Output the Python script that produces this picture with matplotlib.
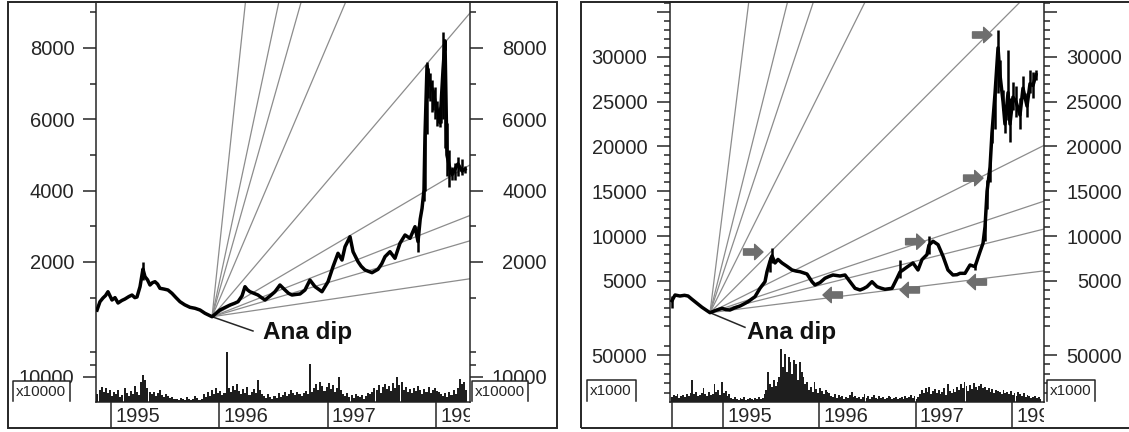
import numpy as np
import matplotlib
matplotlib.use("Agg")
import matplotlib.pyplot as plt
from matplotlib.patches import Rectangle
from matplotlib.lines import Line2D

plt.rcParams["font.family"] = ["Liberation Sans", "DejaVu Sans"]

W, H = 1129, 432
INK = "#262626"
FAN = "#8c8c8c"
ARROW = "#6e6e6e"
TICK_FS = 14.5

GANN_RATIOS = [8, 4, 3, 2, 1, 1 / 2, 1 / 3, 1 / 4, 1 / 8]
YEARS = [1995, 1996, 1997, 1998]

# ---------------- left chart: price (decimal year, price) ----------------
L_T = [1994.871, 1994.898, 1994.926, 1994.950, 1994.972, 1995.009, 1995.037, 1995.065,
       1995.100, 1995.129, 1995.165, 1995.194, 1995.220, 1995.240, 1995.268, 1995.295,
       1995.314, 1995.337, 1995.360, 1995.383, 1995.406, 1995.430, 1995.452, 1995.490,
       1995.526, 1995.563, 1995.600, 1995.637, 1995.680, 1995.729, 1995.776, 1995.822,
       1995.868, 1995.933, 1995.970, 1996.006, 1996.050, 1996.099, 1996.140, 1996.173,
       1996.210, 1996.237, 1996.260, 1996.283, 1996.320, 1996.357, 1996.390, 1996.422,
       1996.470, 1996.514, 1996.560, 1996.607, 1996.640, 1996.671, 1996.710, 1996.745,
       1996.791, 1996.837, 1996.884, 1996.948, 1997.004, 1997.050, 1997.096, 1997.133,
       1997.161, 1997.207, 1997.235, 1997.281, 1997.310, 1997.345, 1997.410, 1997.465,
       1997.500, 1997.530, 1997.576, 1997.622, 1997.668, 1997.715, 1997.761, 1997.807,
       1997.835, 1997.855, 1997.872, 1997.890, 1997.899, 1997.918, 1997.946, 1997.973,
       1997.992, 1998.019, 1998.038, 1998.066, 1998.084, 1998.102, 1998.130, 1998.149,
       1998.176, 1998.204, 1998.241, 1998.269]
L_P = [650, 886, 990, 1060, 1166, 934, 1000, 850, 920, 962, 1030, 1073, 1000, 1018, 1307, 1800,
       1587, 1500, 1354, 1420, 1447, 1380, 1262, 1240, 1214, 1121, 1000, 886, 800, 729, 701, 653,
       561, 465, 560, 653, 720, 793, 840, 886, 1050, 1307, 1220, 1166, 1120, 1074, 1000, 934,
       1050, 1166, 1354, 1214, 1120, 1074, 1090, 1102, 1214, 1494, 1307, 1166, 1447, 1867, 2243, 2055,
       2428, 2708, 2288, 2008, 1880, 1775, 1700, 1794, 1950, 2148, 2288, 2103, 2523, 2756, 2663, 2989,
       2570, 3200, 3500, 4020, 5500, 7500, 7000, 6800, 6500, 6200, 5900, 7400, 8200, 5000, 4600, 4450,
       4600, 4750, 4550, 4600]
# daily high-low ranges where the bars are tall
L_RNG_T = [1995.295, 1997.835, 1997.890, 1997.899, 1997.918, 1997.930, 1997.946, 1997.960,
           1997.973, 1997.992, 1998.010, 1998.038, 1998.050, 1998.066, 1998.084, 1998.102,
           1998.120, 1998.149, 1998.176, 1998.204, 1998.241, 1998.269]
L_RNG_LO = [1500, 2288, 3700, 4000, 5600, 6600, 6500, 6200, 6260, 6000, 5800, 5780, 5900, 6000,
            5200, 4400, 4110, 4300, 4300, 4400, 4440, 4500]
L_RNG_HI = [2008, 3000, 4500, 5630, 7600, 7450, 7300, 7100, 6820, 6900, 6500, 6350, 6700, 8450,
            7500, 5900, 5140, 4670, 4770, 4950, 4900, 4700]
L_DIP = (1995.933, 465)
L_FAN_UNIT = 3575          # price per year of the 1x1 line
L_VOL_START = 1994.875     # weekly volume, units of 10000
L_VOL = [
    3200, 4800, 6000, 4000, 5600, 3600, 4800,
    2400, 4000, 3200, 4800, 2000, 2800, 5600, 3600, 2400, 4400, 3200, 6400, 4000, 2800,
    8000, 10800, 8800, 5600, 4000,
    3200, 4000, 2400, 3600, 4800, 2800, 2000, 3200, 2400, 1600, 2000, 1200,
    1200, 800, 1600, 1200, 800, 2000, 1200, 800, 1200, 2400, 1600, 800, 1200, 3200, 2000,
    4000, 2400, 4800, 3200, 5600, 3600, 4400, 2800, 3600,
    20000,
    5600, 4000, 6400, 4800, 7200, 4400, 3200, 5200, 3600, 6000, 2800, 4000, 5200, 3600, 8800, 4800, 3200,
    2400, 1600, 3200, 2000, 1200, 2400, 1600, 3600, 2000, 2800, 4000, 2400, 3200, 4800, 3600, 2800,
    4000, 3200, 2400, 3600, 4400, 3200,
    15200,
    4000, 5600, 7200, 4800, 8000, 6400, 4400, 6000, 7600, 5200, 6800, 4000, 5600,
    10000,
    4800, 3200, 2400, 3600, 2000, 2800, 1600, 3200, 2400, 2000, 2800, 1200, 2400, 3600, 3200,
    4000, 5600, 4800, 6800, 3600, 6000, 7200, 5200, 6400, 4400, 7600, 5600, 10000, 6800, 8000,
    4800, 6000, 4000, 5200, 3600, 5600, 4400, 6400, 4800, 3200, 5200, 4000, 6000, 3600, 4800, 5600,
    4400, 4000, 3200,
    2400, 3600, 2000, 4000, 2800, 4800, 3200,
    5600, 9200, 7200, 8000, 4800,
]
L_PRICE_TICKS = [2000, 4000, 6000, 8000]
L_PRICE_LABELS = ["2000", "4000", "6000", "8000"]
L_PRICE_MINOR = [1000, 3000, 5000, 7000, 9000]
L_VOL_TICKS = [10000]
L_VOL_LABELS = ["10000"]
L_VOL_MINOR = [15000, 20000]

# ---------------- right chart ----------------
R_T = [1994.470, 1994.502, 1994.553, 1994.600, 1994.637, 1994.678, 1994.730, 1994.782,
       1994.834, 1994.865, 1994.917, 1994.960, 1994.990, 1995.030, 1995.073, 1995.120,
       1995.177, 1995.220, 1995.260, 1995.300, 1995.332, 1995.384, 1995.436, 1995.457,
       1995.488, 1995.509, 1995.540, 1995.571, 1995.613, 1995.665, 1995.717, 1995.760,
       1995.800, 1995.872, 1995.924, 1995.955, 1996.007, 1996.059, 1996.100, 1996.142,
       1996.215, 1996.267, 1996.319, 1996.371, 1996.423, 1996.460, 1996.495, 1996.547,
       1996.599, 1996.640, 1996.682, 1996.755, 1996.807, 1996.838, 1996.869, 1996.921,
       1996.973, 1997.025, 1997.066, 1997.118, 1997.139, 1997.181, 1997.233, 1997.285,
       1997.336, 1997.388, 1997.430, 1997.461, 1997.513, 1997.565, 1997.617, 1997.669,
       1997.700, 1997.721, 1997.742, 1997.773, 1997.793, 1997.825, 1997.856, 1997.876,
       1997.908, 1997.928, 1997.960, 1997.980, 1998.011, 1998.043, 1998.084, 1998.115,
       1998.157, 1998.188, 1998.219, 1998.250]
R_P = [2800, 3434, 3323, 3400, 3323, 2955, 2509, 2063, 1684, 1461, 1684, 1850, 1951, 1800, 1762, 2000,
       2208, 2450, 2687, 3000, 3245, 4181, 4917, 6032, 7200, 7800, 7006, 7400, 7006, 6630, 6223, 6100,
       6032, 5777, 4917, 4556, 4815, 5300, 5500, 5666, 5554, 5666, 4917, 4181, 3992, 4150, 4360, 4917,
       4360, 4200, 4070, 4181, 5300, 6000, 6223, 6630, 7006, 6223, 7380, 7940, 9000, 9430, 9050, 7750,
       6223, 5666, 5700, 5852, 5852, 6780, 6600, 8264, 9200, 11050, 15000, 17700, 21500, 25950, 31000,
       28000, 25000, 22500, 26000, 22500, 25500, 25000, 23500, 26500, 24500, 27000, 26800, 28000]
R_RNG_T = [1994.470, 1995.488, 1995.509, 1996.838, 1997.139, 1997.617, 1997.721, 1997.742,
           1997.773, 1997.793, 1997.825, 1997.856, 1997.876, 1997.908, 1997.928, 1997.960,
           1997.980, 1998.011, 1998.043, 1998.084, 1998.115, 1998.157, 1998.188, 1998.219, 1998.250]
R_RNG_LO = [1985, 6000, 7000, 5300, 8000, 6223, 9500, 13000, 16000, 20370, 22000, 26000, 26640,
            24060, 21470, 23000, 20540, 24060, 23300, 21920, 25380, 23300, 25950, 25380, 27440]
R_RNG_HI = [3300, 7705, 8640, 7380, 9990, 6970, 12020, 16260, 19000, 22600, 26500, 32990, 29640,
            26300, 24060, 30740, 25380, 27180, 26700, 25380, 27900, 25950, 28550, 28330, 28550]
R_DIP = (1994.865, 1461)
R_FAN_UNIT = 10760
R_VOL_START = 1994.470     # weekly volume, units of 1000
R_VOL = [
    5300, 7400, 6400, 8500, 4300, 6400, 7400, 5300, 8500, 6400,
    9600, 23300, 8500, 10600, 6400, 7400,
    9600, 14900, 8500, 6400, 10600, 7400,
    8500, 19100, 10600, 12700, 7400, 21200, 9600, 11700, 6400, 8500,
    4300, 3200, 5300, 3200, 2100, 4300, 3200, 5300, 2100, 3200, 4300, 3200, 2100, 4300, 3200, 5300,
    3200, 4300,
    8500, 12700, 31800, 19100, 15900, 23300, 17000, 21200,
    26500, 56200, 37100, 50900, 31800, 47700, 42400, 29700, 44500, 40300, 23300, 42400, 31800,
    26500, 19100,
    21200, 12700, 15900, 10600, 21200, 13800, 9600, 14900, 11700, 8500, 12700, 10600, 9600,
    6400, 5300, 8500, 4300, 7400, 5300, 6400, 3200, 5300, 4300, 7400, 10600, 5300, 6400, 4300, 5300,
    3200, 5300, 8500, 4300, 6400, 3200, 5300, 7400, 4300, 3200, 6400, 4300, 5300, 3200, 4300, 6400,
    5300, 3200, 4300, 5300, 3200, 4300,
    5300, 3200, 6400, 4300, 5300, 7400, 4300, 6400, 3200, 5300, 8500,
    12700, 9600, 14900, 10600, 15900, 8500, 11700, 13800,
    9600, 12700, 8500, 10600, 14900, 7400, 19100, 11700, 9600, 13800, 10600,
    15900, 12700, 19100, 14900, 21200, 17000, 11700, 18000, 13800, 20100, 15900, 12700, 17000,
    19100, 14900, 15900,
    12700, 14900, 10600, 13800, 9600, 12700, 11700, 10600, 8500, 12700, 9600,
    10600, 8500, 11700, 7400, 9600, 6400, 10600, 8500, 6400, 9600, 5300, 7400, 6400, 4300, 5300,
    6400, 4300, 5300, 3200,
]
R_PRICE_TICKS = [5000, 10000, 15000, 20000, 25000, 30000, 35000]
R_PRICE_LABELS = ["5000", "10000", "15000", "20000", "25000", "30000", ""]
R_PRICE_MINOR = list(range(0, 36001, 1000))
R_VOL_TICKS = [50000]
R_VOL_LABELS = ["50000"]
R_VOL_MINOR = [10000, 20000, 30000, 40000, 60000]
# marker arrows: tip position and pointing direction (+1 right, -1 left)
R_ARROW_T = [1995.415, 1996.038, 1997.098, 1996.838, 1997.534, 1997.793, 1997.700]
R_ARROW_P = [8230, 3435, 9380, 4000, 4880, 32430, 16470]
R_ARROW_DIR = [1, -1, 1, -1, -1, 1, 1]


def px_box(x0, y0, x1, y1):
    return [x0 / W, 1 - y1 / H, (x1 - x0) / W, (y1 - y0) / H]


def setup_y(a, side, major, labels, minor, pad):
    a.set_yticks(major, labels=labels)
    a.set_yticks(minor, minor=True)
    on_left = side == "left"
    a.tick_params(axis="y", which="both", direction="out", colors=INK, width=1.1,
                  left=on_left, right=not on_left,
                  labelleft=on_left, labelright=not on_left, labelsize=TICK_FS)
    a.tick_params(axis="y", which="major", length=9.4, pad=pad)
    a.tick_params(axis="y", which="minor", length=4.3)
    if not on_left:
        for t in a.yaxis.get_major_ticks():
            t.label2.set_horizontalalignment("right")


def unit_box(fig, x0, y0, x1, y1, text):
    fig.add_artist(Rectangle((x0 / W, 1 - y1 / H), (x1 - x0) / W, (y1 - y0) / H,
                             transform=fig.transFigure, facecolor="white",
                             edgecolor="none", zorder=5))
    fig.add_artist(Line2D([x0 / W, x0 / W, x1 / W, x1 / W],
                          [1 - y1 / H, 1 - y0 / H, 1 - y0 / H, 1 - y1 / H],
                          transform=fig.transFigure, color=INK, lw=1.1, zorder=6))
    fig.text((x0 + 3) / W, 1 - ((y0 + y1) / 2 + 0.5) / H, text, fontsize=11,
             color=INK, ha="left", va="center", zorder=7)


def draw_panel(fig, x0, x1, xlim, ylim, t, p, rt, rlo, rhi, pmaj, plab, pmin,
               dip, unit, lead_end, label_at, vol, vol_start, vol_top,
               vmaj, vlab, vmin, marks, pad_left, pad_right):
    ax = fig.add_axes(px_box(x0, 2, x1, 402))
    rax = ax.twinx()
    for a in (ax, rax):
        a.set_xlim(*xlim)
        a.set_ylim(*ylim)
        a.patch.set_visible(False)
    ax.set_xticks([])
    for s in ax.spines.values():
        s.set_color(INK)
        s.set_linewidth(1.1)
    for s in rax.spines.values():
        s.set_visible(False)
    setup_y(ax, "left", pmaj, plab, pmin, pad_left)
    setup_y(rax, "right", pmaj, plab, pmin, pad_right)

    # Gann fan from the dip
    t_end = xlim[1]
    for r in GANN_RATIOS:
        ax.plot([dip[0], t_end], [dip[1], dip[1] + r * unit * (t_end - dip[0])],
                color=FAN, lw=0.9, zorder=1)

    ax.plot(t, p, color="black", lw=2.5, zorder=3, solid_joinstyle="round")
    ax.vlines(rt, rlo, rhi, color="black", lw=1.8, zorder=3)

    ax.plot([dip[0], lead_end[0]], [dip[1], lead_end[1]], color=INK, lw=1.1, zorder=2)
    ax.text(label_at[0], label_at[1], "Ana dip", fontsize=17.5, fontweight="bold",
            color="#111111", ha="left", va="baseline", zorder=4)

    # volume strip
    vax = fig.add_axes(px_box(x0, 340, x1, 402))
    vrax = vax.twinx()
    for a in (vax, vrax):
        a.set_xlim(*xlim)
        a.set_ylim(0, vol_top)
        a.patch.set_visible(False)
        for s in a.spines.values():
            s.set_visible(False)
    vax.set_xticks([])
    vt = vol_start + np.arange(len(vol)) / 52
    vax.bar(vt, vol, width=0.019, color="#1e1e1e", linewidth=0)
    setup_y(vax, "left", vmaj, vlab, vmin, pad_left)
    setup_y(vrax, "right", vmaj, vlab, vmin, pad_right)

    # year boxes under the axis
    sax = fig.add_axes(px_box(x0, 402, x1, 428))
    sax.set_xlim(*xlim)
    sax.set_ylim(0, 1)
    sax.axis("off")
    sax.vlines(marks, 0, 1, color=INK, lw=1.1)
    for y in YEARS:
        sax.annotate(str(y), xy=(y, 0.44), xytext=(3, 0), textcoords="offset points",
                     ha="left", va="center", fontsize=TICK_FS, color=INK,
                     clip_on=True, annotation_clip=False)
    return ax


fig = plt.figure(figsize=(W / 100, H / 100), dpi=100)

axL = draw_panel(fig, 96, 470, (1994.8615, 1998.3149), (-1926, 9289),
                 L_T, L_P, L_RNG_T, L_RNG_LO, L_RNG_HI,
                 L_PRICE_TICKS, L_PRICE_LABELS, L_PRICE_MINOR,
                 L_DIP, L_FAN_UNIT, (1996.311, 65), (1996.404, -160),
                 L_VOL, L_VOL_START, 24800, L_VOL_TICKS, L_VOL_LABELS, L_VOL_MINOR,
                 YEARS, 6.0, 46.0)

axR = draw_panel(fig, 670, 1044, (1994.4496, 1998.3333), (-8498, 36110),
                 R_T, R_P, R_RNG_T, R_RNG_LO, R_RNG_HI,
                 R_PRICE_TICKS, R_PRICE_LABELS, R_PRICE_MINOR,
                 R_DIP, R_FAN_UNIT, (1995.228, -167), (1995.249, -1472),
                 R_VOL, R_VOL_START, 65960, R_VOL_TICKS, R_VOL_LABELS, R_VOL_MINOR,
                 [1994.47] + YEARS, 7.0, 46.8)

for t, p, d in zip(R_ARROW_T, R_ARROW_P, R_ARROW_DIR):
    axR.annotate("", xy=(t, p), xytext=(-d * 14, 0), textcoords="offset points",
                 arrowprops=dict(arrowstyle="simple,head_length=0.6,head_width=1.1,tail_width=0.45",
                                 color=ARROW, shrinkA=0, shrinkB=0, mutation_scale=10),
                 annotation_clip=False, zorder=5)

# outer frames of the two charts
for x0, x1 in ((8, 557), (581, 1140)):
    fig.add_artist(Rectangle((x0 / W, 1 - 428 / H), (x1 - x0) / W, 426 / H,
                             transform=fig.transFigure, fill=False, edgecolor=INK, lw=1.4))

unit_box(fig, 13, 381, 70, 401, "x10000")
unit_box(fig, 472, 381, 528, 401, "x10000")
unit_box(fig, 587, 380, 636, 401, "x1000")
unit_box(fig, 1047, 380, 1095, 401, "x1000")

fig.savefig("out.png", dpi=100)
